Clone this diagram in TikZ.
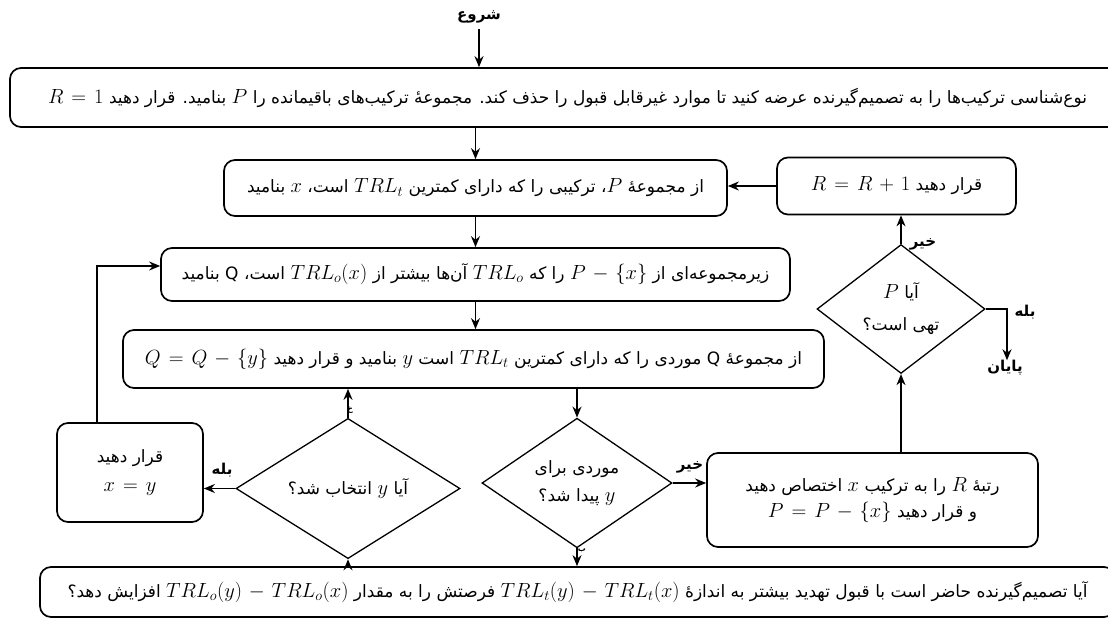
\RequirePackage{fix-cm}
\documentclass[tikz,border=0pt]{standalone}
\usepackage{fontspec}
\usetikzlibrary{arrows.meta,shapes.geometric}
\TeXXeTstate=1
\newfontfamily\fa[Script=Arabic]{DejaVu Sans}
\newcommand{\rtl}[1]{{\fa\beginR #1\endR}}
\newcommand{\fs}{\fa\fontsize{17}{20}\selectfont}
\newcommand{\m}[1]{{\fontsize{20.5}{24}\selectfont\medmuskip=6mu plus 2mu minus 4mu\thickmuskip=7mu plus 5mu$#1$}}
\begin{document}
\begin{tikzpicture}[x=1pt,y=-1pt,
  >={Stealth[length=11pt,width=9pt]},
  box/.style={draw, line width=1.7pt, rounded corners=11pt, inner sep=0pt, font=\fs, align=center},
  dia/.style={draw, diamond, line width=1.3pt, inner sep=0pt, font=\fs, align=center},
  arr/.style={->, line width=1.6pt},
  lab/.style={font=\fa\fontsize{15}{18}\selectfont\bfseries, inner sep=0pt},
  tiny/.style={font=\fa\fontsize{8}{9}\selectfont\bfseries, inner sep=0pt}]
\useasboundingbox (0,0) rectangle (1108,620);

\node[lab] (start) at (479,17) {\rtl{شروع}};

\node[box, minimum width=1115pt, minimum height=59pt] (box1) at (567.5,97.5)
 {\rtl{نوع^^^^200cشناسی ترکیب^^^^200cها را به تصمیم^^^^200cگیرنده عرضه کنید تا موارد غیرقابل قبول را حذف کند. مجموعهٔ ترکیب^^^^200cهای باقیمانده را \m{P} بنامید. قرار دهید \m{R=1}}};

\node[box, minimum width=503pt, minimum height=56pt] (box2) at (475.5,188)
 {\rtl{از مجموعهٔ \m{P}، ترکیبی را که دارای کمترین \m{TRL_t} است، \m{x} بنامید}};

\node[box, minimum width=239pt, minimum height=57pt] (boxR) at (896.5,186)
 {\rtl{قرار دهید \m{R=R+1}}};

\node[box, minimum width=629pt, minimum height=53pt] (box3) at (475.5,274.5)
 {\rtl{زیرمجموعه^^^^200cای از \m{P-\{x\}} را که \m{TRL_o} آن^^^^200cها بیشتر از \m{TRL_o(x)} است، Q بنامید}};

\node[box, minimum width=701pt, minimum height=58pt] (box4) at (473.5,359)
 {\rtl{از مجموعهٔ Q موردی را که دارای کمترین \m{TRL_t} است \m{y} بنامید و قرار دهید \m{Q=Q-\{y\}}}};

\node[dia, minimum width=168pt, minimum height=102pt] (dP) at (901,309)
 {\rtl{آیا \m{P}}\\[12pt]\rtl{تهی است؟}};

\node[dia, minimum width=224pt, minimum height=125pt] (d1) at (348,488.5)
 {\rtl{آیا \m{y} انتخاب شد؟}};

\node[dia, minimum width=190pt, minimum height=110pt] (d2) at (577,483)
 {\rtl{موردی برای}\\[8pt]\rtl{\m{y} پیدا شد؟}};

\node[box, minimum width=146pt, minimum height=99pt] (box5) at (130,472.5)
 {\rtl{قرار دهید}\\[9pt]\m{x=y}};

\node[box, minimum width=331pt, minimum height=94pt] (box6) at (872.5,500)
 {\rtl{رتبهٔ \m{R} را به ترکیب \m{x} اختصاص دهید}\\[6pt]\rtl{و قرار دهید \m{P=P-\{x\}}}};

\node[box, minimum width=1075pt, minimum height=50pt] (box7) at (577.5,592)
 {\rtl{آیا تصمیم^^^^200cگیرنده حاضر است با قبول تهدید بیشتر به اندازهٔ \m{TRL_t(y)-TRL_t(x)} فرصتش را به مقدار \m{TRL_o(y)-TRL_o(x)} افزایش دهد؟}};

\node[lab] (end) at (1005,368) {\rtl{پایان}};
\coordinate (loop) at (97,266);
\coordinate (yes) at (1007,309);

% connectors
\draw[arr] (start.south) ++(0,6) coordinate (s0) -- (s0 |- box1.north);
\draw[arr] (box2.north |- box1.south) -- (box2.north);
\draw[arr] (boxR.west) -- (boxR.west -| box2.east);
\draw[arr] (box2.south) -- (box2.south |- box3.north);
\draw[arr] (box3.south) -- (box3.south |- box4.north);
\draw[arr] (d2.north |- box4.south) -- (d2.north);
\draw[arr] (d1.north) -- (d1.north |- box4.south);
\draw[arr] (d1.west) -- (d1.west -| box5.east);
\draw[arr] (box5.north -| loop) -- (loop) -- (loop -| box3.west);
\draw[arr] (d2.east) -- (d2.east -| box6.west);
\draw[arr] (d2.south) -- (d2.south |- box7.north);
\draw[arr] (d1.south |- box7.north) -- (d1.south);
\draw[arr] (dP.south |- box6.north) -- (dP.south);
\draw[arr] (dP.north) -- (dP.north |- boxR.south);
\draw[arr] (dP.east) -- (yes) -- (yes |- end.north);

% labels
\node[lab] (l1) at (923,244) {\rtl{خیر}};
\node[lab] (l2) at (1025,312) {\rtl{بله}};
\node[lab] (l3) at (222,470) {\rtl{بله}};
\node[lab] (l4) at (690,467) {\rtl{خیر}};
\node[tiny] (l5) at (350,410) {\rtl{خ}};
\node[tiny] (l6) at (582,551) {\rtl{ب}};
\end{tikzpicture}
\end{document}
